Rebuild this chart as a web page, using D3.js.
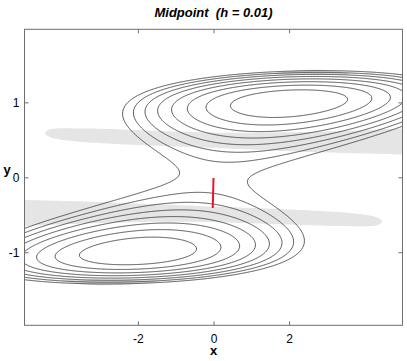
<!DOCTYPE html>
<html>
<head>
<meta charset="utf-8">
<script src="https://cdn.jsdelivr.net/npm/d3@7"></script>
<style>
  body { margin: 0; background: #fff; }
  text { font-family: "Liberation Sans", Arial, sans-serif; }
</style>
</head>
<body>
<div id="content"></div>
<script>
// Data

// double well: minima at (-2,-1) and (2,1), saddle at (0,0)
var wellX = 2, wellY = 1;
var barrier = 0.76,   // weight of the (y^2-1)^2 term
    coupling = 0.044; // weight of the (x - 2y)^2 term
var levels = [0.1, 0.2, 0.3, 0.4, 0.5, 0.6, 0.7, 0.8];

// red segment
var redPath = [[0, -0.01], [-0.02, -0.41]];

// grey bands (x, y)
var lowerBand = [
  [-5.4, -0.30], [-5.01, -0.303], [-3.0, -0.33], [-0.36, -0.384], [2.29, -0.437],
  [3.61, -0.477], [4.19, -0.517], [4.40, -0.555], [4.46, -0.59], [4.38, -0.63],
  [4.19, -0.65], [3.35, -0.65], [2.29, -0.636], [-0.36, -0.596], [-3.0, -0.61],
  [-5.01, -0.65], [-5.4, -0.655]
];
var upperBand = [
  [5.4, 0.30], [5.01, 0.303], [3.0, 0.33], [0.36, 0.384], [-2.29, 0.437],
  [-3.61, 0.477], [-4.19, 0.517], [-4.40, 0.555], [-4.46, 0.59], [-4.38, 0.63],
  [-4.19, 0.65], [-3.35, 0.65], [-2.29, 0.636], [0.36, 0.596], [3.0, 0.61],
  [5.01, 0.65], [5.4, 0.655]
];
// faint grey smudges on the outer contours
var lowerSmudge = [
  [-4.0, -1.385], [-3.3, -1.37], [-2.4, -1.37], [-1.4, -1.385],
  [-2.4, -1.435], [-3.3, -1.435]
];
var upperSmudge = [
  [1.6, 1.385], [2.3, 1.37], [3.0, 1.37], [3.6, 1.385],
  [3.0, 1.43], [2.3, 1.43]
];

var xTicks = [-2, 0, 2],
    yTicks = [-1, 0, 1];
var title = "Midpoint  (h = 0.01)";

// Parameters

var width = 407, height = 361;
var frameLeft = 24.5, frameRight = 402.5, frameTop = 29.3, frameBottom = 325.3;

var svg = d3.select("#content").append("svg")
    .attr("width", width)
    .attr("height", height);

var x = d3.scaleLinear().domain([-5, 5]).range([frameLeft, frameRight]),
    y = d3.scaleLinear().domain([-1.975, 1.975]).range([frameBottom, frameTop]);

function potential(px, py) {
  var q = py * py - wellY * wellY;
  var s = px - (wellX / wellY) * py;
  return barrier * q * q + coupling * s * s;
}

// Grid, a bit larger than the frame so that contour borders fall outside the clip
var gx0 = -6, gy0 = -2.6, step = 0.02,
    n = 601, m = 261;
var values = new Array(n * m);
for (var j = 0; j < m; j++) {
  for (var i = 0; i < n; i++) {
    values[i + j * n] = potential(gx0 + i * step, gy0 + j * step);
  }
}

var contours = d3.contours().size([n, m]).thresholds(levels)(values);

var gridToScreen = d3.geoTransform({
  point: function(px, py) {
    this.stream.point(x(gx0 + (px - 0.5) * step), y(gy0 + (py - 0.5) * step));
  }
});
var path = d3.geoPath(gridToScreen);

svg.append("clipPath").attr("id", "frame")
  .append("rect")
    .attr("x", frameLeft).attr("y", frameTop)
    .attr("width", frameRight - frameLeft).attr("height", frameBottom - frameTop);

var plot = svg.append("g").attr("clip-path", "url(#frame)");

var area = d3.line().x(d => x(d[0])).y(d => y(d[1])).curve(d3.curveCatmullRomClosed);

plot.selectAll("path.band")
    .data([lowerBand, upperBand])
  .join("path")
    .attr("class", "band")
    .attr("d", area)
    .attr("fill", "#e5e5e5");

plot.selectAll("path.smudge")
    .data([lowerSmudge, upperSmudge])
  .join("path")
    .attr("class", "smudge")
    .attr("d", area)
    .attr("fill", "#dcdcdc");

plot.selectAll("path.contour")
    .data(contours)
  .join("path")
    .attr("class", "contour")
    .attr("d", path)
    .attr("fill", "none")
    .attr("stroke", "#3a3a3a")
    .attr("stroke-width", 0.85);

plot.append("path")
    .attr("d", d3.line().x(d => x(d[0])).y(d => y(d[1]))(redPath))
    .attr("stroke", "#e8142c")
    .attr("stroke-width", 2)
    .attr("fill", "none");

// Axes

var tickColor = "#6e6e6e";

svg.append("g")
    .attr("transform", "translate(0," + frameBottom + ")")
    .call(d3.axisBottom(x).tickValues(xTicks).tickSizeInner(-4).tickSizeOuter(0)
      .tickPadding(9).tickFormat(d => String(d)));

svg.append("g")
    .attr("transform", "translate(0," + frameTop + ")")
    .call(d3.axisTop(x).tickValues(xTicks).tickSizeInner(-4).tickSizeOuter(0).tickFormat(""));

svg.append("g")
    .attr("transform", "translate(" + frameLeft + ",0)")
    .call(d3.axisLeft(y).tickValues(yTicks).tickSizeInner(-4).tickSizeOuter(0)
      .tickPadding(5).tickFormat(d => String(d)));

svg.append("g")
    .attr("transform", "translate(" + frameRight + ",0)")
    .call(d3.axisRight(y).tickValues(yTicks).tickSizeInner(-4).tickSizeOuter(0).tickFormat(""));

svg.selectAll(".domain").remove();
svg.selectAll(".tick line").attr("stroke", tickColor);
svg.selectAll(".tick text")
    .attr("fill", "#000")
    .style("font-family", "'Liberation Sans', Arial, sans-serif")
    .style("font-size", "12px");

svg.append("rect")
    .attr("x", frameLeft).attr("y", frameTop)
    .attr("width", frameRight - frameLeft).attr("height", frameBottom - frameTop)
    .attr("fill", "none")
    .attr("stroke", tickColor)
    .attr("stroke-width", 1);

svg.append("text")
    .attr("x", 213.5)
    .attr("y", 17)
    .attr("text-anchor", "middle")
    .style("font-size", "13px")
    .style("font-weight", "bold")
    .style("font-style", "italic")
    .style("white-space", "pre")
    .text(title);

svg.append("text")
    .attr("x", 213.5)
    .attr("y", 355)
    .attr("text-anchor", "middle")
    .style("font-size", "13px")
    .style("font-weight", "bold")
    .text("x");

svg.append("text")
    .attr("x", 7)
    .attr("y", 174)
    .attr("text-anchor", "middle")
    .style("font-size", "13px")
    .style("font-weight", "bold")
    .text("y");
</script>
</body>
</html>
